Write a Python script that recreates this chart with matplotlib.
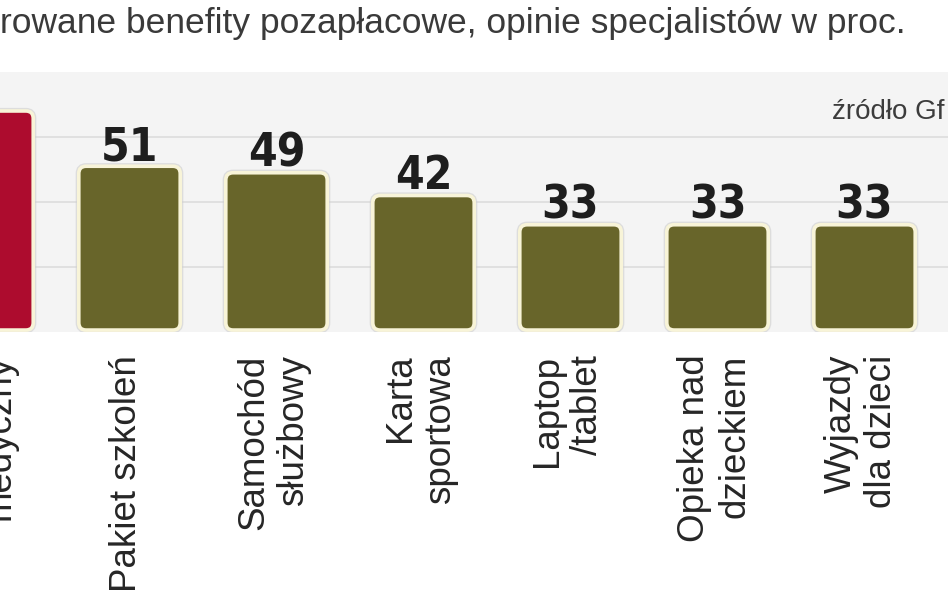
import matplotlib.pyplot as plt
from matplotlib import patheffects
from matplotlib.patches import FancyBboxPatch

# data
categories = [
    "Pakiet\nmedyczny",
    "Pakiet szkoleń",
    "Samochód\nsłużbowy",
    "Karta\nsportowa",
    "Laptop\n/tablet",
    "Opieka nad\ndzieckiem",
    "Wyjazdy\ndla dzieci",
]
values = [68, 51, 49, 42, 33, 33, 33]
bar_colors = ["#ad0c2e", "#68652a", "#68652a", "#68652a", "#68652a", "#68652a", "#68652a"]
grid_values = [20, 40, 60]

title = "rowane benefity pozapłacowe, opinie specjalistów w proc."
source = "źródło Gf"

W, H = 948, 593
fig = plt.figure(figsize=(W / 100, H / 100), dpi=100)
fig.patch.set_facecolor("white")

# axes spans the whole width, zero line at y=332 px, 80 at y=72 px
ax = fig.add_axes([0, (H - 332) / H, 1, 260 / H])
ax.set_facecolor("#f4f4f4")
ax.set_xlim((0 + 17.5) / 147, (W + 17.5) / 147)
ax.set_ylim(0, 80)
for s in ax.spines.values():
    s.set_visible(False)
ax.set_xticks([])
ax.set_yticks(grid_values)
ax.tick_params(left=False, labelleft=False)
ax.grid(axis="y", color="#dcdcdc", linewidth=1.2)
ax.set_axisbelow(True)

x = list(range(len(categories)))
bars = ax.bar(x, values, width=0.69, color=bar_colors)

# rounded bars with cream outline and soft grey rim
aspect = 147 / 3.25
for b, c in zip(bars, bar_colors):
    b.set_visible(False)
    p = FancyBboxPatch(
        (b.get_x(), 0.6), b.get_width(), b.get_height() - 0.6,
        boxstyle="round,pad=0,rounding_size=0.05",
        mutation_aspect=aspect,
        facecolor=c, edgecolor="#f8f4d8", linewidth=2.6, zorder=3,
    )
    p.set_path_effects([
        patheffects.Stroke(linewidth=4.5, foreground="#cfcfcf", alpha=0.6),
        patheffects.Normal(),
    ])
    ax.add_patch(p)

# the first bar's value sits outside the visible crop, so only the rest get labels
for xi, v in list(zip(x, values))[1:]:
    ax.text(xi, v + 1.9, str(v), ha="center", va="baseline",
            fontsize=33, fontweight="bold", fontstretch="condensed",
            family="DejaVu Sans", color="#1e1e1e", zorder=4)

for xi, lab in zip(x, categories):
    ax.text(xi - 0.02, -7.0, lab, rotation=90, ha="center", va="top",
            multialignment="right", fontsize=26.5, family="Liberation Sans",
            color="#262626", clip_on=False)

fig.text((W - 3) / W, 1 - 119 / H, source, ha="right", va="baseline",
         fontsize=20, family="Liberation Sans", color="#3c3c3c")

fig.text(0.0, 1 - 33 / H, title, ha="left", va="baseline", fontsize=25.5,
         family="Liberation Sans", color="#3a3a3a")

fig.savefig("out.png", dpi=100)
